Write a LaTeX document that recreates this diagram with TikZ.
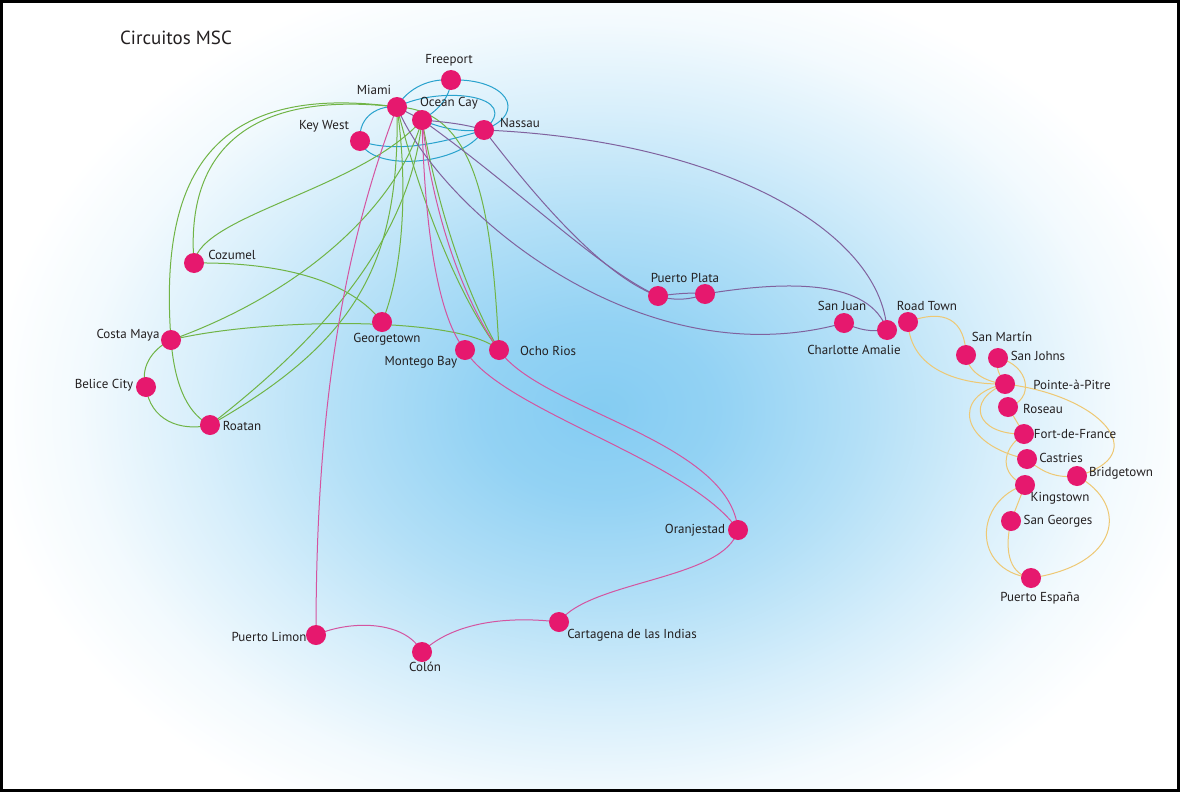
\documentclass[tikz,border=0pt]{standalone}
\usepackage{fontspec}
\setmainfont{PT Sans}
\definecolor{bgc}{RGB}{132,204,242}
\definecolor{nodec}{RGB}{230,24,110}
\definecolor{gc}{RGB}{112,180,70}
\definecolor{cc}{RGB}{40,162,205}
\definecolor{pc}{RGB}{212,84,160}
\definecolor{uc}{RGB}{128,98,158}
\definecolor{yc}{RGB}{238,200,115}
\definecolor{labc}{RGB}{35,31,32}
\pgfdeclareradialshading{bgsh}{\pgfpoint{0bp}{0bp}}{color(0bp)=(bgc); color(5bp)=(bgc!88!white); color(11bp)=(bgc!62!white); color(17bp)=(bgc!32!white); color(22bp)=(bgc!10!white); color(26bp)=(white); color(50bp)=(white)}
\pgfdeclarelayer{bgl}
\pgfdeclarelayer{edgel}
\pgfsetlayers{bgl,edgel,main}
\begin{document}
\begin{tikzpicture}[x=1pt,y=-1pt,
  dot/.style={circle, fill=nodec, inner sep=0pt, minimum size=20pt},
  lab/.style={font=\fontsize{13}{15}\selectfont, text=labc, inner sep=0pt},
  ttl/.style={font=\fontsize{19}{22}\selectfont, text=labc, inner sep=0pt},
  edge/.style={line width=1pt},
  eg/.style={edge, draw=gc},
  ec/.style={edge, draw=cc},
  ep/.style={edge, draw=pc},
  eu/.style={edge, draw=uc},
  ey/.style={edge, draw=yc}]
\useasboundingbox (0,0) rectangle (1180,792);
\begin{pgfonlayer}{bgl}
  \fill[white] (0,0) rectangle (1180,792);
  \begin{scope}
    \clip (0,0) rectangle (1180,792);
    \shade[shading=bgsh] (10,-30) rectangle (1190,850);
  \end{scope}
\end{pgfonlayer}

% ports
\node[dot] (freeport) at (451,80) {};
\node[dot] (miami) at (397,107) {};
\node[dot] (oceancay) at (422,120) {};
\node[dot] (nassau) at (484,130) {};
\node[dot] (keywest) at (360,141) {};
\node[dot] (cozumel) at (194,263) {};
\node[dot] (georgetown) at (382,322) {};
\node[dot] (costamaya) at (171,340) {};
\node[dot] (belice) at (146,387) {};
\node[dot] (roatan) at (210,425) {};
\node[dot] (montego) at (465,350) {};
\node[dot] (ochorios) at (499,350) {};
\node[dot] (pplata) at (658,296) {};
\node[dot] (pplatab) at (705,294) {};
\node[dot] (sanjuan) at (844,323) {};
\node[dot] (charlotte) at (887,330) {};
\node[dot] (roadtown) at (908,322) {};
\node[dot] (sanmartin) at (966,355) {};
\node[dot] (sanjohns) at (998,358) {};
\node[dot] (pointe) at (1005,384) {};
\node[dot] (roseau) at (1008,407) {};
\node[dot] (fortdf) at (1024,434) {};
\node[dot] (castries) at (1027,459) {};
\node[dot] (bridgetown) at (1077,476) {};
\node[dot] (kingstown) at (1025,485) {};
\node[dot] (sangeorges) at (1011,521) {};
\node[dot] (puertoespana) at (1031,578) {};
\node[dot] (oranjestad) at (738,530) {};
\node[dot] (cartagena) at (559,622) {};
\node[dot] (colon) at (422,652) {};
\node[dot] (plimon) at (316,635) {};

% labels
\node[ttl] (title) at (176,38) {Circuitos MSC};
\node[lab] (l-freeport) at (449,60) {Freeport};
\node[lab] (l-miami) at (374,90) {Miami};
\node[lab] (l-oceancay) at (449,103) {Ocean Cay};
\node[lab] (l-nassau) at (520,123) {Nassau};
\node[lab] (l-keywest) at (324,126) {Key West};
\node[lab] (l-cozumel) at (232,255) {Cozumel};
\node[lab] (l-georgetown) at (387,339) {Georgetown};
\node[lab] (l-costamaya) at (128,335) {Costa Maya};
\node[lab] (l-belice) at (104,385) {Belice City};
\node[lab] (l-roatan) at (242,426) {Roatan};
\node[lab] (l-montego) at (421,362) {Montego Bay};
\node[lab] (l-ochorios) at (548,351) {Ocho Rios};
\node[lab] (l-pplata) at (685,278) {Puerto Plata};
\node[lab] (l-sanjuan) at (842,306) {San Juan};
\node[lab] (l-charlotte) at (854,350) {Charlotte Amalie};
\node[lab] (l-roadtown) at (927,306) {Road Town};
\node[lab] (l-sanmartin) at (1002,337) {San Martín};
\node[lab] (l-sanjohns) at (1038,356) {San Johns};
\node[lab] (l-pointe) at (1072,385) {Pointe-à-Pitre};
\node[lab] (l-roseau) at (1043,409) {Roseau};
\node[lab] (l-fortdf) at (1075,434) {Fort-de-France};
\node[lab] (l-castries) at (1061,458) {Castries};
\node[lab] (l-bridgetown) at (1121,473) {Bridgetown};
\node[lab] (l-kingstown) at (1060,498) {Kingstown};
\node[lab] (l-sangeorges) at (1058,521) {San Georges};
\node[lab] (l-puertoespana) at (1040,598) {Puerto España};
\node[lab] (l-oranjestad) at (695,530) {Oranjestad};
\node[lab] (l-cartagena) at (632,635) {Cartagena de las Indias};
\node[lab] (l-colon) at (425,667) {Colón};
\node[lab] (l-plimon) at (269,637) {Puerto Limon};

\begin{pgfonlayer}{edgel}
% cyan
\draw[ec] (miami.center) .. controls (405,92) and (425,78) .. (freeport.center);
\draw[ec] (freeport.center) .. controls (505,78) and (530,112) .. (nassau.center);
\draw[ec] (miami.center) .. controls (440,85) and (525,95) .. (nassau.center);
\draw[ec] (freeport.center) .. controls (450,100) and (435,112) .. (oceancay.center);
\draw[ec] (keywest.center) .. controls (358,115) and (380,105) .. (miami.center);
\draw[ec] (keywest.center) .. controls (400,155) and (450,140) .. (nassau.center);
\draw[ec] (keywest.center) .. controls (370,172) and (460,167) .. (nassau.center);
\draw[ec] (oceancay.center) .. controls (445,130) and (465,132) .. (nassau.center);
% green
\draw[eg] (miami.center) .. controls (200,80) and (160,190) .. (costamaya.center);
\draw[eg] (miami.center) .. controls (250,90) and (185,150) .. (cozumel.center);
\draw[eg] (cozumel.center) .. controls (200,215) and (360,190) .. (oceancay.center);
\draw[eg] (cozumel.center) .. controls (280,262) and (350,280) .. (georgetown.center);
\draw[eg] (costamaya.center) .. controls (260,318) and (460,315) .. (ochorios.center);
\draw[eg] (costamaya.center) .. controls (310,290) and (400,200) .. (oceancay.center);
\draw[eg] (costamaya.center) .. controls (150,350) and (140,370) .. (belice.center);
\draw[eg] (belice.center) .. controls (150,420) and (180,432) .. (roatan.center);
\draw[eg] (costamaya.center) .. controls (175,390) and (190,415) .. (roatan.center);
\draw[eg] (roatan.center) .. controls (320,340) and (410,240) .. (oceancay.center);
\draw[eg] (roatan.center) .. controls (360,340) and (400,260) .. (miami.center);
\draw[eg] (miami.center) .. controls (410,200) and (400,280) .. (georgetown.center);
\draw[eg] (miami.center) .. controls (480,110) and (492,220) .. (ochorios.center);
\draw[eg] (oceancay.center) .. controls (440,220) and (470,300) .. (ochorios.center);
\draw[eg] (miami.center) .. controls (420,200) and (460,300) .. (ochorios.center);
% pink
\draw[ep] (miami.center) .. controls (335,270) and (316,440) .. (plimon.center);
\draw[ep] (oceancay.center) .. controls (425,240) and (440,320) .. (montego.center);
\draw[ep] (oceancay.center) .. controls (435,230) and (470,310) .. (ochorios.center);
\draw[ep] (montego.center) .. controls (500,410) and (690,460) .. (oranjestad.center);
\draw[ep] (ochorios.center) .. controls (540,410) and (730,440) .. (oranjestad.center);
\draw[ep] (oranjestad.center) .. controls (725,580) and (590,580) .. (cartagena.center);
\draw[ep] (cartagena.center) .. controls (500,615) and (450,625) .. (colon.center);
\draw[ep] (colon.center) .. controls (405,620) and (350,620) .. (plimon.center);
% purple
\draw[eu] (nassau.center) .. controls (720,140) and (880,230) .. (charlotte.center);
\draw[eu] (nassau.center) .. controls (530,190) and (600,275) .. (pplata.center);
\draw[eu] (oceancay.center) .. controls (520,190) and (600,270) .. (pplata.center);
\draw[eu] (miami.center) .. controls (440,210) and (640,380) .. (sanjuan.center);
\draw[eu] (pplata.center) .. controls (675,301) and (690,300) .. (pplatab.center);
\draw[eu] (pplata.center) .. controls (675,294) and (690,292) .. (pplatab.center);
\draw[eu] (pplatab.center) .. controls (790,280) and (870,280) .. (charlotte.center);
\draw[eu] (sanjuan.center) .. controls (860,330) and (870,332) .. (charlotte.center);
\draw[eu] (miami.center) -- (oceancay.center);
\draw[eu] (oceancay.center) .. controls (445,122) and (465,124) .. (nassau.center);
% gold
\draw[ey] (roadtown.center) .. controls (945,308) and (965,320) .. (sanmartin.center);
\draw[ey] (roadtown.center) .. controls (910,370) and (960,385) .. (pointe.center);
\draw[ey] (sanmartin.center) .. controls (968,372) and (985,382) .. (pointe.center);
\draw[ey] (sanjohns.center) .. controls (995,368) and (1000,376) .. (pointe.center);
\draw[ey] (sanjohns.center) .. controls (1030,365) and (1035,400) .. (roseau.center);
\draw[ey] (pointe.center) .. controls (965,400) and (975,435) .. (fortdf.center);
\draw[ey] (pointe.center) .. controls (950,395) and (960,445) .. (castries.center);
\draw[ey] (pointe.center) .. controls (1100,395) and (1155,455) .. (bridgetown.center);
\draw[ey] (roseau.center) -- (fortdf.center);
\draw[ey] (fortdf.center) .. controls (1000,450) and (1000,475) .. (kingstown.center);
\draw[ey] (castries.center) .. controls (1045,475) and (1060,478) .. (bridgetown.center);
\draw[ey] (kingstown.center) -- (sangeorges.center);
\draw[ey] (kingstown.center) .. controls (975,500) and (970,570) .. (puertoespana.center);
\draw[ey] (sangeorges.center) .. controls (1003,555) and (1012,575) .. (puertoespana.center);
\draw[ey] (bridgetown.center) .. controls (1130,505) and (1120,565) .. (puertoespana.center);
\end{pgfonlayer}

\draw[line width=2.6pt, black] (1.3,1.3) rectangle (1178.7,790.7);
\end{tikzpicture}
\end{document}
